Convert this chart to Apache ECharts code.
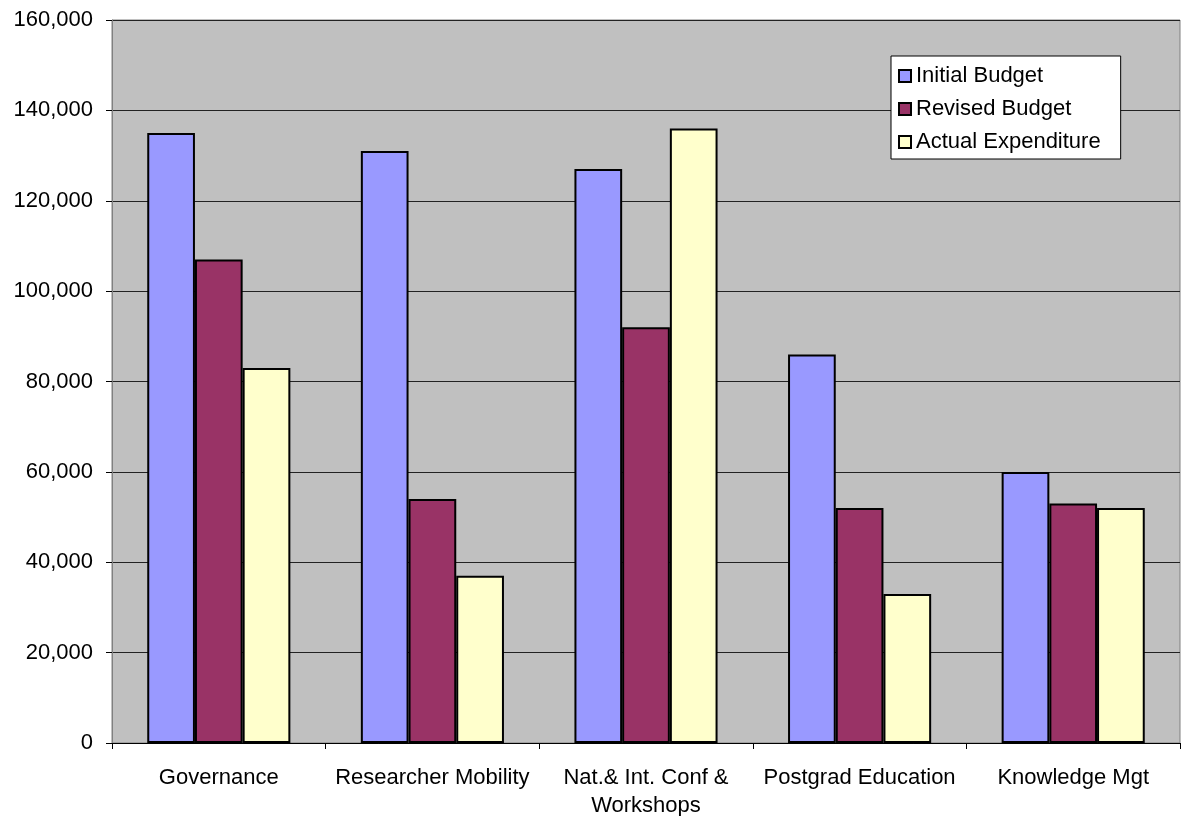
<!DOCTYPE html>
<html>
<head>
<meta charset="utf-8">
<script src="https://cdn.jsdelivr.net/npm/echarts@6/dist/echarts.min.js"></script>
<style>
  html, body { margin: 0; padding: 0; background: #fff; }
  #report { width: 1185px; height: 816px; }
</style>
</head>
<body>
<div id="report"></div>
<script>
var categories = ['Governance', 'Researcher Mobility', 'Nat.& Int. Conf &\nWorkshops', 'Postgrad Education', 'Knowledge Mgt'];
var initialBudget = [135000, 131000, 127000, 86000, 60000];
var revisedBudget = [107000, 54000, 92000, 52000, 53000];
var actualExpenditure = [83000, 37000, 136000, 33000, 52000];

var myChart = echarts.init(document.getElementById('report'));

function bar(name, data, color) {
    return {
        name: name,
        type: 'bar',
        data: data,
        barGap: '0%',
        barCategoryGap: '33%',
        itemStyle: { color: color, borderColor: '#000', borderWidth: 2 }
    };
}

var option = {
    animation: false,
    textStyle: { fontFamily: 'Liberation Sans, Arial, sans-serif' },
    grid: {
        left: 112, right: 5, top: 20, bottom: 73,
        outerBoundsMode: 'none',
        containLabel: false,
        show: true,
        backgroundColor: '#c0c0c0',
        borderColor: '#808080',
        borderWidth: 1
    },
    legend: {
        orient: 'vertical',
        left: 891,
        top: 56,
        itemWidth: 12,
        itemHeight: 12,
        itemGap: 9,
        padding: [8, 20, 5, 7],
        backgroundColor: '#fff',
        borderColor: '#000',
        borderWidth: 1,
        icon: 'rect',
        textStyle: { fontSize: 22, lineHeight: 24, color: '#000', fontFamily: 'Liberation Sans, Arial, sans-serif' }
    },
    xAxis: {
        type: 'category',
        data: categories,
        axisLine: { lineStyle: { color: '#000' } },
        axisTick: { show: true, length: 6, lineStyle: { color: '#000' } },
        axisLabel: { fontSize: 22, color: '#000', margin: 21, interval: 0, lineHeight: 28 }
    },
    yAxis: {
        type: 'value',
        min: 0,
        max: 160000,
        interval: 20000,
        axisLine: { show: true, lineStyle: { color: '#808080' } },
        axisTick: { show: true, length: 6, lineStyle: { color: '#000' } },
        splitLine: { lineStyle: { color: '#222', width: 1 } },
        axisLabel: {
            fontSize: 22, color: '#000', margin: 19,
            formatter: function (v) { return v.toLocaleString('en-US'); }
        }
    },
    series: [
        bar('Initial Budget', initialBudget, '#9999ff'),
        bar('Revised Budget', revisedBudget, '#993366'),
        bar('Actual Expenditure', actualExpenditure, '#ffffcc')
    ]
};
myChart.setOption(option);
</script>
</body>
</html>
